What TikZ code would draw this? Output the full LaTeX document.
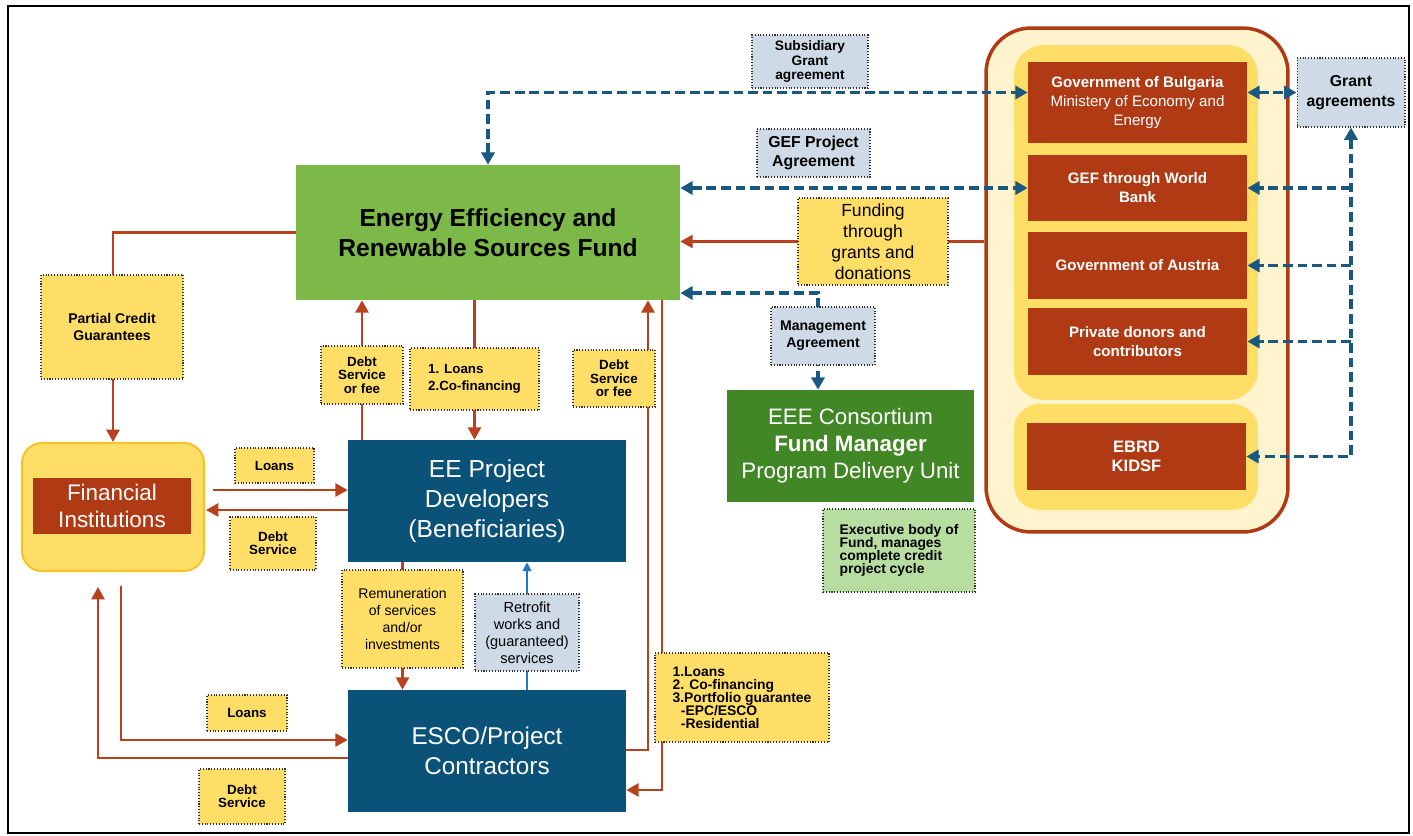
\documentclass[tikz,border=0pt]{standalone}
\usepackage{fontspec}
\setmainfont{Liberation Sans}
\usetikzlibrary{arrows.meta,positioning}

\definecolor{fundgreen}{RGB}{124,185,72}
\definecolor{fmgreen}{RGB}{66,135,38}
\definecolor{devblue}{RGB}{11,82,120}
\definecolor{donorred}{RGB}{176,58,20}
\definecolor{linered}{RGB}{184,66,30}
\definecolor{dashblue}{RGB}{25,88,128}
\definecolor{retroblue}{RGB}{30,120,200}
\definecolor{noteyellow}{RGB}{255,222,104}
\definecolor{notegrey}{RGB}{206,219,231}
\definecolor{notegreen}{RGB}{183,222,160}
\definecolor{panelcream}{RGB}{255,244,206}
\definecolor{goldrim}{RGB}{246,196,40}

\pgfdeclarelayer{panels}
\pgfdeclarelayer{links}
\pgfsetlayers{panels,links,main}

\tikzset
{
    mainbox/.style = {align=center, text=white, inner sep=0pt},
    donorbox/.style = {fill=donorred, text=white, align=center, inner sep=0pt,
                       minimum width=4.38cm,
                       font=\fontsize{8.6}{10.8}\selectfont\bfseries},
    note/.style = {draw=black!80, densely dotted, line width=0.6pt,
                   align=center, inner sep=0pt,
                   font=\fontsize{7.6}{7.6}\selectfont\bfseries},
    yellownote/.style = {note, fill=noteyellow},
    greynote/.style = {note, fill=notegrey},
    redlink/.style = {draw=linered, line width=1.2pt, ->},
    bluelink/.style = {draw=dashblue, line width=1.8pt,
                       dash pattern=on 5.5pt off 2.8pt},
    retrolink/.style = {draw=retroblue, line width=0.9pt,
                        -{Triangle[length=5pt,width=5pt]}}
}

\begin{document}
\begin{tikzpicture}[
        % one unit is one pixel of the layout, y runs downwards
        x=0.02cm, y=-0.02cm,
        >={Triangle[length=7pt,width=7.5pt]}
      ]
    \useasboundingbox (0,0) rectangle (1413,835);
    \draw[line width=0.9pt] (8,6) rectangle (1409,833);

    % donor panels and the financial institutions panel
    \begin{pgfonlayer}{panels}
        \node[draw=donorred, line width=2pt, fill=panelcream, rounded corners=0.9cm,
              minimum width=6.04cm, minimum height=10.08cm] (donors) at (1137,280) {};
        \node[fill=noteyellow, rounded corners=0.6cm,
              minimum width=4.88cm, minimum height=7.1cm] (grantpanel) at (1136,222.5) {};
        \node[fill=noteyellow, rounded corners=0.5cm,
              minimum width=4.88cm, minimum height=2.12cm] (loanpanel) at (1136,457) {};
        \node[fill=noteyellow, draw=goldrim, line width=1.2pt, rounded corners=0.4cm,
              minimum width=3.64cm, minimum height=2.56cm] (fipanel) at (113,507) {};
    \end{pgfonlayer}

    % main actors
    \node[mainbox, fill=fundgreen, text=black, minimum width=7.68cm, minimum height=2.7cm,
          font=\fontsize{14}{17}\selectfont\bfseries] (fund) at (488,232.5)
          {Energy Efficiency and\\Renewable Sources Fund};
    \node[mainbox, fill=devblue, minimum width=5.56cm, minimum height=2.44cm,
          font=\fontsize{14}{17}\selectfont] (developers) at (487,501)
          {EE Project\\Developers\\(Beneficiaries)};
    \node[mainbox, fill=devblue, minimum width=5.56cm, minimum height=2.44cm,
          font=\fontsize{13.8}{17}\selectfont] (esco) at (487,751)
          {ESCO/Project\\Contractors};
    \node[mainbox, fill=donorred, minimum width=3.16cm, minimum height=1.12cm,
          font=\fontsize{12.8}{15.3}\selectfont] (fi) at (112,506)
          {Financial\\Institutions};
    \node[mainbox, fill=fmgreen, minimum width=4.94cm, minimum height=2.24cm,
          font=\fontsize{12.7}{15.3}\selectfont] (manager) at (850.5,446)
          {EEE Consortium\\\textbf{Fund Manager}\\Program Delivery Unit};

    % donors
    \node[donorbox, minimum height=1.62cm] (bulgaria) at (1137.5,102.5)
          {Government of Bulgaria\\\mdseries Ministery of Economy and\\\mdseries Energy};
    \node[donorbox, minimum height=1.32cm] (gefwb) at (1137.5,188) {GEF through World\\Bank};
    \node[donorbox, minimum height=1.34cm] (austria) at (1137.5,265.5) {Government of Austria};
    \node[donorbox, minimum height=1.34cm] (private) at (1137.5,341.5) {Private donors and\\contributors};
    \node[donorbox, minimum height=1.34cm, font=\fontsize{9.4}{10.6}\selectfont\bfseries]
          (ebrd) at (1136.5,456.5) {EBRD\\KIDSF};

    % notes on the flows
    \node[greynote, minimum width=2.32cm, minimum height=1.06cm,
          font=\fontsize{7.8}{8.5}\selectfont\bfseries] (subsidiary) at (810,61.5)
          {Subsidiary\\Grant\\agreement};
    \node[greynote, minimum width=2.26cm, minimum height=0.96cm,
          font=\fontsize{9}{11.3}\selectfont\bfseries] (gefpa) at (813.5,153)
          {GEF Project\\Agreement};
    \node[yellownote, minimum width=3cm, minimum height=1.74cm,
          font=\fontsize{10}{12}\selectfont] (funding) at (873,241.5)
          {Funding\\through\\grants and\\donations};
    \node[greynote, minimum width=2.08cm, minimum height=1.16cm,
          font=\fontsize{8}{9.6}\selectfont\bfseries] (mgmt) at (823,336)
          {Management\\Agreement};
    \node[greynote, minimum width=2.16cm, minimum height=1.38cm,
          font=\fontsize{9}{11.3}\selectfont\bfseries] (grant) at (1351,92.5)
          {Grant\\agreements};
    \node[note, fill=notegreen, minimum width=3.04cm, minimum height=1.66cm, align=left,
          font=\fontsize{7.9}{7.4}\selectfont\bfseries] (executive) at (899,550.5)
          {Executive body of\\Fund, manages\\complete credit\\project cycle};

    \node[yellownote, minimum width=2.84cm, minimum height=2.08cm,
          font=\fontsize{8}{9.6}\selectfont\bfseries] (pcg) at (112,327)
          {Partial Credit\\Guarantees};
    \node[yellownote, minimum width=1.64cm, minimum height=1.16cm] (feeleft) at (362,375)
          {Debt\\Service\\or fee};
    \node[yellownote, minimum width=2.58cm, minimum height=1.24cm, align=left,
          font=\fontsize{7.6}{9.4}\selectfont\bfseries] (loanscof) at (474.5,379)
          {1. Loans\\2.Co-financing};
    \node[yellownote, minimum width=1.64cm, minimum height=1.14cm] (feeright) at (614,378.5)
          {Debt\\Service\\or fee};
    \node[yellownote, minimum width=1.58cm, minimum height=0.7cm] (loansfi) at (274.5,465.5) {Loans};
    \node[yellownote, minimum width=1.72cm, minimum height=1.06cm] (debtfi) at (273,543.5) {Debt\\Service};
    \node[yellownote, minimum width=2.42cm, minimum height=1.96cm,
          font=\fontsize{8}{9.6}\selectfont] (remun) at (402.5,619)
          {Remuneration\\of services\\and/or\\investments};
    \node[greynote, minimum width=2.08cm, minimum height=1.54cm,
          font=\fontsize{8.3}{9.6}\selectfont] (retrofit) at (527,632.5)
          {Retrofit\\works and\\(guaranteed)\\services};
    \node[yellownote, minimum width=1.6cm, minimum height=0.72cm] (loansesco) at (247,713) {Loans};
    \node[yellownote, minimum width=1.72cm, minimum height=1.1cm] (debtesco) at (242,796.5) {Debt\\Service};
    \node[yellownote, minimum width=3.48cm, minimum height=1.78cm, align=left,
          font=\fontsize{7.9}{7.4}\selectfont\bfseries] (portfolio) at (742,697.5)
          {1.Loans\\2. Co-financing\\3.Portfolio guarantee\\\hspace*{0.6em}-EPC/ESCO\\\hspace*{0.6em}-Residential};

    % bends and free ends of the links
    \coordinate (feeline) at (648,750);
    \coordinate (portline) at (662,790);
    \coordinate (fiout) at (213,490);
    \coordinate (fiin) at (206,510);
    \coordinate (escoloan) at (121,740);
    \coordinate (escodebt) at (98,758);
    \coordinate (mgmtline) at (818,293);

    \begin{pgfonlayer}{links}
        % money flows
        \draw[redlink] (fund.west) -| (fipanel.north);
        \draw[redlink] (developers.north -| feeleft) -- (fund.south -| feeleft);
        \draw[redlink] (fund.south -| loanscof) -- (developers.north -| loanscof);
        \draw[redlink] (esco.east |- feeline) -| (fund.south -| feeline);
        \draw[redlink] (fund.south -| portline) |- (esco.east |- portline);
        \draw[redlink] (fiout) -- (developers.west |- fiout);
        \draw[redlink] (developers.west |- fiin) -- (fiin);
        \draw[redlink, shorten <=0.28cm] (fipanel.south -| escoloan) |- (esco.west |- escoloan);
        \draw[redlink, shorten >=0.3cm] (esco.west |- escodebt) -| (fipanel.south -| escodebt);
        \draw[redlink] (developers.south -| remun) -- (esco.north -| remun);
        \draw[redlink] (donors.west |- funding) -- (fund.east |- funding);
        \draw[retrolink] (esco.north -| retrofit) -- (developers.south -| retrofit);

        % agreements
        \draw[bluelink, <->] (fund.north) |- (bulgaria.west |- grant.west);
        \draw[bluelink, <->] (fund.east |- gefwb.west) -- (gefwb.west);
        \draw[bluelink, <->] (bulgaria.east |- grant.west) -- (grant.west);
        \draw[bluelink, <->] (fund.east |- mgmtline) -| (manager.north -| mgmtline);
        \draw[bluelink, <->] (grant.south) |- (ebrd.east);
        \foreach \donor in {gefwb, austria, private}
            \draw[bluelink, ->] (\donor.east -| grant.south) -- (\donor.east);
    \end{pgfonlayer}
\end{tikzpicture}
\end{document}
